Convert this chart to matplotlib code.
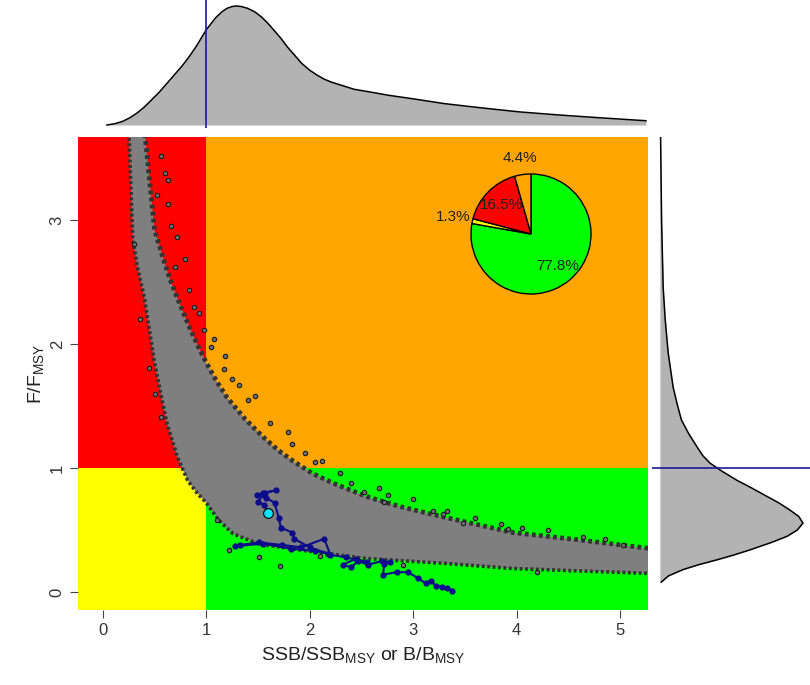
import numpy as np
import matplotlib
matplotlib.use("Agg")
from matplotlib import pyplot as plt

plt.rcParams['font.family'] = ['Liberation Sans', 'DejaVu Sans']
plt.rcParams['mathtext.default'] = 'regular'

# reference points and limits
b_ref = 1.0
f_ref = 1.0
xlim = (-0.24, 5.27)
ylim = (-0.145, 3.67)

# outline of the cloud of SSB/F samples
upper_b = [0.40, 0.43, 0.50, 0.58, 0.65, 0.74, 0.82, 0.91, 1.00, 1.10, 1.20, 1.37, 1.55, 1.70, 1.85,
           2.02, 2.22, 2.55, 2.87, 3.32, 3.96, 4.61, 5.30]
upper_f = [3.75, 3.50, 2.92, 2.70, 2.52, 2.33, 2.17, 2.00, 1.85, 1.70, 1.57, 1.40, 1.25, 1.14, 1.05,
           0.96, 0.88, 0.77, 0.69, 0.60, 0.48, 0.42, 0.35]
lower_b = [0.25, 0.29, 0.34, 0.40, 0.50, 0.56, 0.62, 0.72, 0.82, 0.91, 1.00, 1.12, 1.26, 1.50, 1.90,
           2.55, 3.32, 3.96, 4.61, 5.30]
lower_f = [3.75, 2.84, 2.60, 2.38, 1.85, 1.60, 1.36, 1.09, 0.90, 0.80, 0.72, 0.58, 0.47, 0.39, 0.34,
           0.27, 0.23, 0.19, 0.17, 0.15]

# stray samples outside the dense cloud
out_b = [0.56, 0.60, 0.63, 0.63, 0.72, 0.79, 0.83, 0.98, 1.07, 1.18, 1.17, 1.32, 1.47, 1.79, 1.83,
         0.45, 0.56, 0.30, 2.12, 2.29, 2.52, 2.67, 2.76, 2.72, 3.19, 3.33, 3.29, 3.48, 3.85, 3.92,
         4.05, 4.64, 5.03, 1.22, 1.71, 1.51, 0.52, 0.66, 0.70, 0.88, 0.93, 1.05, 1.25, 1.40, 1.62,
         1.95, 2.05, 2.40, 3.00, 3.60, 4.30, 4.85, 0.36, 0.50, 1.10, 2.10, 2.90, 4.20]
out_f = [3.52, 3.38, 3.32, 3.13, 2.86, 2.69, 2.44, 2.11, 2.04, 1.90, 1.80, 1.67, 1.58, 1.29, 1.19,
         1.81, 1.41, 2.81, 1.06, 0.96, 0.81, 0.84, 0.78, 0.73, 0.65, 0.65, 0.63, 0.56, 0.55, 0.51,
         0.52, 0.44, 0.38, 0.34, 0.21, 0.28, 3.20, 2.95, 2.62, 2.30, 2.25, 1.98, 1.72, 1.55, 1.36,
         1.12, 1.05, 0.88, 0.75, 0.60, 0.50, 0.43, 2.20, 1.60, 0.58, 0.29, 0.22, 0.16]

# historical trajectory, oldest first; last point = current year
traj_b = [3.38, 3.33, 3.28, 3.22, 3.17, 3.12, 3.05, 2.95, 2.84, 2.71, 2.72, 2.78, 2.70, 2.56, 2.47,
          2.40, 2.32, 2.45, 2.55, 2.35, 2.20, 2.14, 1.92, 1.73, 1.51, 1.33, 1.28, 1.55, 1.82, 2.05,
          2.18, 2.00, 1.85, 1.83, 1.72, 1.70, 1.66, 1.58, 1.49, 1.55, 1.67, 1.57, 1.50, 1.56, 1.60]
traj_f = [0.01, 0.03, 0.04, 0.05, 0.09, 0.07, 0.11, 0.16, 0.16, 0.14, 0.23, 0.24, 0.25, 0.22, 0.25,
          0.20, 0.22, 0.27, 0.24, 0.28, 0.30, 0.43, 0.36, 0.38, 0.40, 0.38, 0.37, 0.39, 0.35, 0.33,
          0.31, 0.36, 0.43, 0.48, 0.52, 0.60, 0.72, 0.76, 0.78, 0.80, 0.82, 0.80, 0.73, 0.70, 0.64]

# marginal densities (scaled to max 1)
dens_b = [0.04, 0.12, 0.19, 0.26, 0.33, 0.40, 0.47, 0.55, 0.62, 0.70, 0.77, 0.84, 0.91, 1.00, 1.09,
          1.15, 1.20, 1.25, 1.29, 1.34, 1.40, 1.47, 1.53, 1.59, 1.65, 1.72, 1.78, 1.85, 1.92, 2.00,
          2.07, 2.14, 2.21, 2.32, 2.43, 2.60, 2.76, 3.00, 3.30, 3.65, 4.03, 4.40, 4.75, 5.25]
dens_b_h = [0.0, 0.012, 0.03, 0.06, 0.10, 0.15, 0.21, 0.28, 0.35, 0.43, 0.50, 0.58, 0.67, 0.80, 0.90,
            0.95, 0.98, 0.995, 1.00, 0.995, 0.98, 0.95, 0.91, 0.86, 0.80, 0.73, 0.66, 0.59, 0.52, 0.46,
            0.42, 0.385, 0.36, 0.33, 0.30, 0.275, 0.25, 0.22, 0.18, 0.145, 0.11, 0.085, 0.064, 0.036]
dens_f = [0.08, 0.13, 0.18, 0.22, 0.26, 0.30, 0.34, 0.40, 0.45, 0.50, 0.556, 0.61, 0.66, 0.72, 0.77,
          0.84, 0.90, 0.97, 1.04, 1.10, 1.17, 1.28, 1.39, 1.52, 1.65, 1.93, 2.20, 2.46, 3.00, 3.67]
dens_f_w = [0.01, 0.06, 0.16, 0.27, 0.40, 0.52, 0.63, 0.78, 0.89, 0.96, 1.00, 0.97, 0.91, 0.83, 0.75,
            0.64, 0.54, 0.44, 0.35, 0.30, 0.26, 0.20, 0.15, 0.12, 0.093, 0.058, 0.037, 0.023, 0.012,
            0.005]

# pie of quadrant probabilities
pie_labels = ['77.8%', '1.3%', '16.5%', '4.4%']
pie_vals = [77.8, 1.3, 16.5, 4.4]
pie_cols = ['#00ff00', '#ffff00', '#ff0000', '#ffa500']
pie_lab_r = [0.70, 1.33, 0.68, 1.28]

W, H = 810, 685
fig = plt.figure(figsize=(W / 100, H / 100), dpi=100)

ax = fig.add_axes([78 / W, 1 - 610 / H, 570 / W, 473 / H])
ax.set_xlim(xlim)
ax.set_ylim(ylim)
ax.fill_between([xlim[0], b_ref], ylim[0], f_ref, color='#ffff00', lw=0)
ax.fill_between([xlim[0], b_ref], f_ref, ylim[1], color='#ff0000', lw=0)
ax.fill_between([b_ref, xlim[1]], ylim[0], f_ref, color='#00ff00', lw=0)
ax.fill_between([b_ref, xlim[1]], f_ref, ylim[1], color='#ffa500', lw=0)

poly_b = upper_b + lower_b[::-1]
poly_f = upper_f + lower_f[::-1]
ax.fill(poly_b, poly_f, color='#7f7f7f', lw=0, zorder=2)
ax.plot(upper_b, upper_f, color='#333333', lw=3.4, ls=(0, (0.8, 0.7)), zorder=3)
ax.plot(lower_b, lower_f, color='#333333', lw=2.6, ls=(0, (0.8, 0.7)), zorder=3)
ax.scatter(out_b, out_f, s=10, facecolor='#6f6f6f', edgecolor='#1a1a1a', lw=0.8, zorder=3)

ax.plot(traj_b, traj_f, '-o', color='#0c0c8c', lw=1.5, ms=3.5, zorder=4)
ax.plot(traj_b[-1], traj_f[-1], 'o', mfc='#00e5ff', mec='black', ms=7, mew=0.8, zorder=5)

for s in ax.spines.values():
    s.set_visible(False)
ax.set_xticks(range(0, 6))
ax.set_yticks(range(0, 4))
ax.set_yticklabels([str(i) for i in range(0, 4)], rotation=90, va='center')
ax.tick_params(direction='out', length=6, color='#444444', labelcolor='#333333', labelsize=12)
ax.set_xlabel('SSB/SSB$_{MSY}$ or B/B$_{MSY}$', fontsize=14, color='#222222', labelpad=5)
ax.set_ylabel('F/F$_{MSY}$', fontsize=14, color='#222222', labelpad=3)

# pie inset
axp = fig.add_axes([471 / W, 1 - 294 / H, 120 / W, 120 / H])
wedges, _ = axp.pie(pie_vals, colors=pie_cols, startangle=90, counterclock=False,
                    wedgeprops=dict(edgecolor='black', lw=1))
for w in wedges:
    w.set_clip_on(False)
for w, lab, r in zip(wedges, pie_labels, pie_lab_r):
    mid = np.deg2rad((w.theta1 + w.theta2) / 2)
    axp.text(r * np.cos(mid), r * np.sin(mid), lab, ha='center', va='center',
             fontsize=11, color='#222222')
axp.set_xlim(-1, 1)
axp.set_ylim(-1, 1)

# top marginal
axt = fig.add_axes([78 / W, 1 - 128 / H, 570 / W, 128 / H])
axt.set_xlim(xlim)
axt.set_ylim(-0.025, 1.05)
axt.fill_between(dens_b, dens_b_h, color='#b3b3b3', lw=0)
axt.plot(dens_b, dens_b_h, color='black', lw=1.1)
axt.axvline(b_ref, color='#1a1a99', lw=1.2)
axt.axis('off')

# right marginal
axr = fig.add_axes([652 / W, 1 - 610 / H, 158 / W, 473 / H])
axr.set_ylim(ylim)
axr.set_xlim(-0.055, 1.049)
axr.fill_betweenx(dens_f, dens_f_w, color='#b3b3b3', lw=0)
axr.plot(dens_f_w, dens_f, color='black', lw=1.1)
axr.axhline(f_ref, color='#1a1a99', lw=1.2)
axr.axis('off')

fig.savefig('out.png', dpi=100)
